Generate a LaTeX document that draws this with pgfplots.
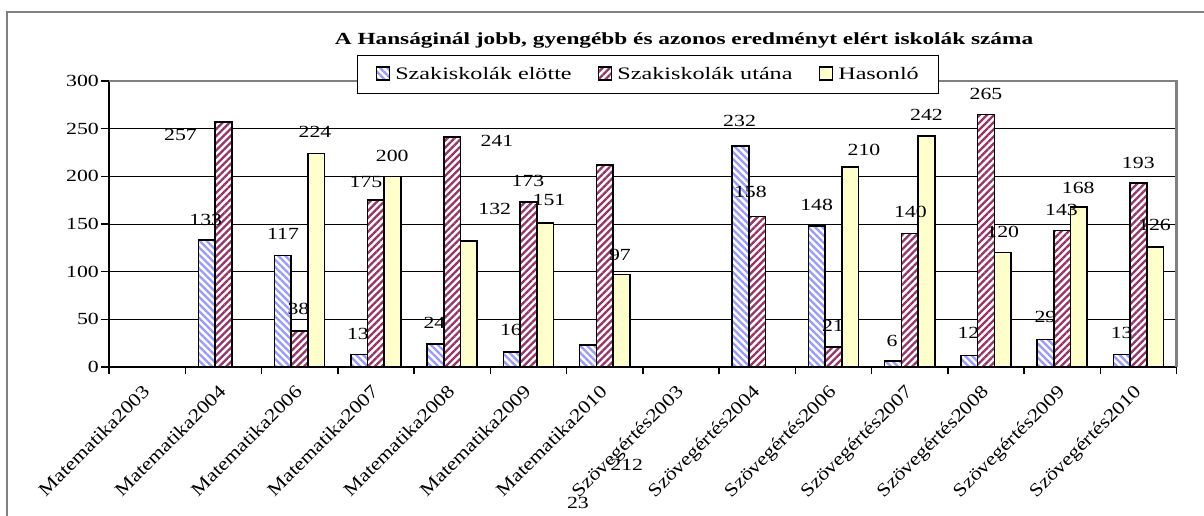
\documentclass[border=0pt]{standalone}
\usepackage{pgfplots}
\pgfplotsset{compat=1.18}
\usepackage{fontspec}
\setmainfont{Liberation Serif}[FakeStretch=1.28]
\newfontfamily\legfont{Liberation Serif}[FakeStretch=1.38]
\newfontfamily\titfont{Liberation Serif}[FakeStretch=1.37,BoldFont={Liberation Serif Bold}]
\newfontfamily\xfont{Liberation Serif}[FakeStretch=1.18]
\usetikzlibrary{patterns.meta}
\definecolor{bstripe}{HTML}{9999FF}
\definecolor{rstripe}{HTML}{993366}
\definecolor{yfill}{HTML}{FFFFCC}
\definecolor{frame}{HTML}{808080}
\newcommand\labf{\fontsize{17}{20}\selectfont}
\begin{document}
\begin{tikzpicture}[x=1pt,y=1pt]
\path[use as bounding box] (0,0) rectangle (1204,515);
\draw[frame, line width=1.2pt] (7,-5) -- (7,503) -- (1210,503);
\node[anchor=base, font={\titfont\bfseries\fontsize{17}{20}\selectfont}] at (684,470) {A Hanságinál jobb, gyengébb és azonos eredményt elért iskolák száma};
\begin{axis}[
  at={(109pt,148pt)}, anchor=south west,
  scale only axis, width=1067.6pt, height=286pt,
  xmin=-0.5, xmax=13.5, ymin=0, ymax=300,
  enlargelimits=false, clip=false,
  ybar=0pt, bar width=16.7pt,
  axis x line*=bottom, axis y line*=left,
  axis line style={line width=1.6pt, -},
  ytick={0,50,...,300},
  ymajorgrids, grid style={black, line width=0.8pt},
  xtick={0,...,13},
  xticklabels={Matematika2003,Matematika2004,Matematika2006,Matematika2007,Matematika2008,Matematika2009,Matematika2010,Szövegértés2003,Szövegértés2004,Szövegértés2006,Szövegértés2007,Szövegértés2008,Szövegértés2009,Szövegértés2010},
  minor xtick={-0.5,0.5,...,13.5},
  tick align=outside,
  major tick length=8pt, minor tick length=7pt,
  major x tick style={draw=none},
  minor x tick style={black, line width=1.5pt},
  major y tick style={black, line width=1.5pt},
  /pgf/number format/assume math mode=true,
  ticklabel style={font=\labf},
  yticklabel style={inner xsep=0pt, xshift=-2pt},
  xticklabel style={rotate=45, anchor=north east, inner sep=0pt, yshift=-2pt, xshift=-10pt, font=\xfont\fontsize{18.5}{21}\selectfont},
  legend style={at={(0.2323,1.0909)}, anchor=north west, legend columns=3,
    draw=black, line width=1pt, fill=white, font={\legfont\fontsize{17.5}{20}\selectfont},
    inner xsep=18pt, inner ysep=10pt,
    /tikz/every odd column/.append style={column sep=3pt},
    /tikz/every even column/.append style={column sep=24pt}},
  legend image code/.code={\draw[#1, line width=1.8pt] (0pt,-6pt) rectangle (13pt,7pt);},
]
\addplot[draw=black, line width=1.6pt, preaction={fill=white},
  pattern={Lines[angle=-45,distance=5pt,line width=2.3pt]}, pattern color=bstripe]
  coordinates {(1,133) (2,117) (3,13) (4,24) (5,16) (6,23) (8,232) (9,148) (10,6) (11,12) (12,29) (13,13)};
\addplot[draw=black, line width=1.6pt, preaction={fill=white},
  pattern={Lines[angle=45,distance=5pt,line width=2.3pt]}, pattern color=rstripe]
  coordinates {(1,257) (2,38) (3,175) (4,241) (5,173) (6,212) (8,158) (9,21) (10,140) (11,265) (12,143) (13,193)};
\addplot[draw=black, line width=1.6pt, fill=yfill]
  coordinates {(2,224) (3,200) (4,132) (5,151) (6,97) (9,210) (10,242) (11,120) (12,168) (13,126)};
\legend{Szakiskolák elötte,Szakiskolák utána,Hasonló}
\draw[frame, line width=2.2pt] (rel axis cs:0,1) -- (rel axis cs:1,1) -- (rel axis cs:1,0);
\begin{scope}[every node/.style={font=\labf, inner sep=0pt}]
\node at (axis cs:0.438,243) {257};
\node at (axis cs:2.201,246.8) {224};
\node at (axis cs:3.215,221.6) {200};
\node at (axis cs:2.870,193.7) {175};
\node at (axis cs:4.588,237.3) {241};
\node at (axis cs:4.994,195.3) {173};
\node at (axis cs:5.27,175) {151};
\node at (axis cs:4.558,165.9) {132};
\node at (axis cs:0.768,154.3) {133};
\node at (axis cs:1.782,139.7) {117};
\node at (axis cs:1.985,60.9) {38};
\node at (axis cs:2.765,34.6) {13};
\node at (axis cs:3.767,45.9) {24};
\node at (axis cs:4.771,38.8) {16};
\node at (axis cs:6.201,117.6) {97};
\node at (axis cs:6.29,-102.9) {212};
\node at (axis cs:5.65,-142.8) {23};
\node at (axis cs:7.769,257.6) {232};
\node at (axis cs:7.91,183.2) {158};
\node at (axis cs:8.78,170.1) {148};
\node at (axis cs:9.40,227.9) {210};
\node at (axis cs:8.994,43.2) {21};
\node at (axis cs:10.22,264.6) {242};
\node at (axis cs:10.01,163) {140};
\node at (axis cs:9.77,27.3) {6};
\node at (axis cs:11.0,286.7) {265};
\node at (axis cs:11.22,142) {120};
\node at (axis cs:10.77,35.4) {12};
\node at (axis cs:12.21,187.6) {168};
\node at (axis cs:11.99,164.9) {143};
\node at (axis cs:11.78,52) {29};
\node at (axis cs:12.998,213.9) {193};
\node at (axis cs:13.21,148.6) {126};
\node at (axis cs:12.78,35.4) {13};
\end{scope}
\end{axis}
\end{tikzpicture}
\end{document}
